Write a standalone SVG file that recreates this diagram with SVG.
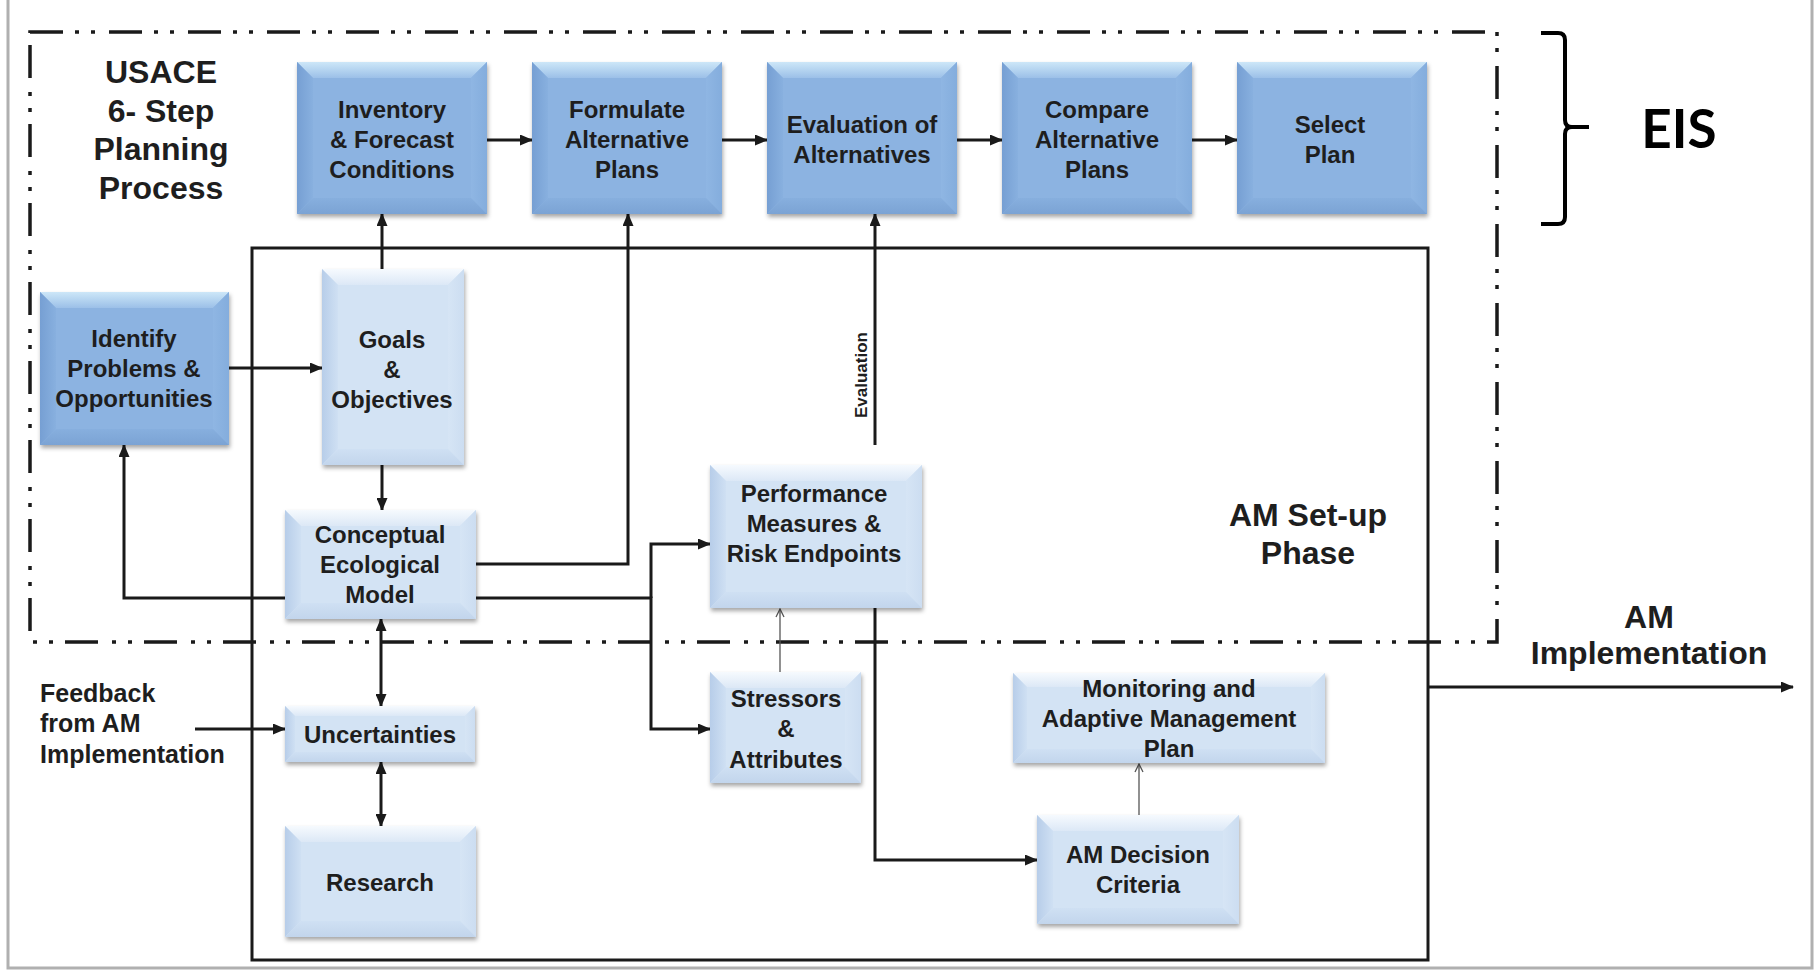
<svg xmlns="http://www.w3.org/2000/svg" width="1818" height="971" viewBox="0 0 1818 971">
<style>
.bx{font-family:"Liberation Sans",Arial,sans-serif;font-weight:bold;font-size:24px;fill:#1e1e1e;text-anchor:middle}
.big{font-family:"Liberation Sans",Arial,sans-serif;font-weight:bold;font-size:32px;fill:#1e1e1e;text-anchor:middle}
.fb{font-family:"Liberation Sans",Arial,sans-serif;font-weight:bold;font-size:25px;fill:#1e1e1e}
.ev{font-family:"Liberation Sans",Arial,sans-serif;font-weight:bold;font-size:17px;fill:#1e1e1e;text-anchor:middle}
.eis{font-family:Lato,"Liberation Sans",sans-serif;font-weight:bold;font-size:53px;fill:#000;text-anchor:middle}
.dk .c{fill:#8CB3E1;filter:url(#sh)}
.dk .t{fill:url(#gdt)}
.dk .l{fill:url(#gdl)}
.dk .r{fill:url(#gdr)}
.dk .b{fill:url(#gdb)}
.lt .c{fill:#D3E3F4;filter:url(#sh)}
.lt .t{fill:url(#glt)}
.lt .l{fill:url(#gll)}
.lt .r{fill:url(#glr)}
.lt .b{fill:url(#glb)}
.k{fill:none;stroke:#1a1a1a;stroke-width:3}
.ka{marker-end:url(#ah)}
.kd{marker-start:url(#ah2);marker-end:url(#ah2)}
.thin{fill:none;stroke:#555;stroke-width:1.3;marker-end:url(#ta)}
.frame{fill:none;stroke:#b0b0b0;stroke-width:3}
.dd{fill:none;stroke:#1a1a1a;stroke-width:3.5;stroke-dasharray:33 12 4 12 4 14}
</style>
<defs>
<linearGradient id="gdt" x1="0" y1="0" x2="0" y2="1"><stop offset="0" stop-color="#CDE7F8"/><stop offset="1" stop-color="#9CC0E8"/></linearGradient>
<linearGradient id="gdl" x1="0" y1="0" x2="1" y2="0"><stop offset="0" stop-color="#769FD3"/><stop offset="1" stop-color="#88B0DF"/></linearGradient>
<linearGradient id="gdr" x1="0" y1="0" x2="1" y2="0"><stop offset="0" stop-color="#8FB6E3"/><stop offset="1" stop-color="#84ADDD"/></linearGradient>
<linearGradient id="gdb" x1="0" y1="0" x2="0" y2="1"><stop offset="0" stop-color="#87AFDE"/><stop offset="1" stop-color="#7BA3D4"/></linearGradient>
<linearGradient id="glt" x1="0" y1="0" x2="0" y2="1"><stop offset="0" stop-color="#F6FAFE"/><stop offset="1" stop-color="#DCE8F6"/></linearGradient>
<linearGradient id="gll" x1="0" y1="0" x2="1" y2="0"><stop offset="0" stop-color="#B7CDE9"/><stop offset="1" stop-color="#CFE0F3"/></linearGradient>
<linearGradient id="glr" x1="0" y1="0" x2="1" y2="0"><stop offset="0" stop-color="#D6E5F5"/><stop offset="1" stop-color="#CCDDF1"/></linearGradient>
<linearGradient id="glb" x1="0" y1="0" x2="0" y2="1"><stop offset="0" stop-color="#CFE0F3"/><stop offset="1" stop-color="#C2D5EC"/></linearGradient>
<filter id="sh" x="-10%" y="-10%" width="130%" height="140%"><feDropShadow dx="1" dy="3" stdDeviation="2" flood-color="#000" flood-opacity="0.35"/></filter>
<marker id="ah" markerUnits="userSpaceOnUse" markerWidth="13" markerHeight="11" refX="12" refY="5.5" orient="auto"><path d="M0,0 L13,5.5 L0,11 Z" fill="#1a1a1a"/></marker>
<marker id="ah2" markerUnits="userSpaceOnUse" markerWidth="13" markerHeight="11" refX="12" refY="5.5" orient="auto-start-reverse"><path d="M0,0 L13,5.5 L0,11 Z" fill="#1a1a1a"/></marker>
<marker id="ta" markerUnits="userSpaceOnUse" markerWidth="10" markerHeight="10" refX="9" refY="5" orient="auto"><path d="M1,1 L9,5 L1,9" fill="none" stroke="#555" stroke-width="1.3"/></marker>
</defs>
<rect width="1818" height="971" fill="#fff"/>
<path class="frame" d="M8,0 V968 H1812 V0"/>

<g id="regions">
<rect class="dd" x="30" y="32" width="1467" height="610"/>
<rect fill="none" stroke="#1a1a1a" stroke-width="3" x="252" y="248" width="1176" height="712"/>
<path d="M1541,33 H1558 Q1565,33 1565,40 V120 Q1565,127 1572,127 H1589 M1589,127 H1572 Q1565,127 1565,134 V217 Q1565,224 1558,224 H1541" fill="none" stroke="#000" stroke-width="4"/>
</g>

<g id="labels">
<text class="big" x="161" y="83">USACE</text>
<text class="big" x="161" y="122">6- Step</text>
<text class="big" x="161" y="160">Planning</text>
<text class="big" x="161" y="199">Process</text>
<text class="eis" x="1679" y="148">EIS</text>
<text class="big" x="1308" y="526">AM Set-up</text>
<text class="big" x="1308" y="564">Phase</text>
<text class="big" x="1649" y="628">AM</text>
<text class="big" x="1649" y="664">Implementation</text>
<text class="fb" x="40" y="702">Feedback</text>
<text class="fb" x="40" y="732">from AM</text>
<text class="fb" x="40" y="763">Implementation</text>
<text class="ev" transform="translate(867,375) rotate(-90)">Evaluation</text>
</g>

<g id="connectors">
<path class="k ka" d="M487,140 H532"/>
<path class="k ka" d="M722,140 H767"/>
<path class="k ka" d="M957,140 H1002"/>
<path class="k ka" d="M1192,140 H1237"/>
<path class="k ka" d="M229,368 H322"/>
<path class="k ka" d="M382,269 V214"/>
<path class="k ka" d="M382,465 V510"/>
<path class="k ka" d="M285,598 H124 V445"/>
<path class="k ka" d="M476,564 H628 V214"/>
<path class="k ka" d="M651,598 V544 H710"/>
<path class="k ka" d="M476,598 H651 V729 H710"/>
<path class="k ka" d="M875,445 V214"/>
<path class="k ka" d="M875,608 V860 H1037"/>
<path class="thin" d="M780,672 V609"/>
<path class="thin" d="M1139,815 V764"/>
<path class="k kd" d="M381,619 V706"/>
<path class="k kd" d="M381,762 V826"/>
<path class="k ka" d="M195,729 H285"/>
<path class="k ka" d="M1428,687 H1793"/>
</g>

<g id="n-inventory" class="dk">
<rect class="c" x="297" y="62" width="190" height="152"/>
<polygon class="t" points="297,62 487,62 471,78 313,78"/>
<polygon class="l" points="297,62 313,78 313,198 297,214"/>
<polygon class="r" points="487,62 487,214 471,198 471,78"/>
<polygon class="b" points="297,214 313,198 471,198 487,214"/>
<text class="bx" x="392" y="118">Inventory</text>
<text class="bx" x="392" y="148">&amp; Forecast</text>
<text class="bx" x="392" y="178">Conditions</text>
</g>

<g id="n-formulate" class="dk">
<rect class="c" x="532" y="62" width="190" height="152"/>
<polygon class="t" points="532,62 722,62 706,78 548,78"/>
<polygon class="l" points="532,62 548,78 548,198 532,214"/>
<polygon class="r" points="722,62 722,214 706,198 706,78"/>
<polygon class="b" points="532,214 548,198 706,198 722,214"/>
<text class="bx" x="627" y="118">Formulate</text>
<text class="bx" x="627" y="148">Alternative</text>
<text class="bx" x="627" y="178">Plans</text>
</g>

<g id="n-evaluation" class="dk">
<rect class="c" x="767" y="62" width="190" height="152"/>
<polygon class="t" points="767,62 957,62 941,78 783,78"/>
<polygon class="l" points="767,62 783,78 783,198 767,214"/>
<polygon class="r" points="957,62 957,214 941,198 941,78"/>
<polygon class="b" points="767,214 783,198 941,198 957,214"/>
<text class="bx" x="862" y="133">Evaluation of</text>
<text class="bx" x="862" y="163">Alternatives</text>
</g>

<g id="n-compare" class="dk">
<rect class="c" x="1002" y="62" width="190" height="152"/>
<polygon class="t" points="1002,62 1192,62 1176,78 1018,78"/>
<polygon class="l" points="1002,62 1018,78 1018,198 1002,214"/>
<polygon class="r" points="1192,62 1192,214 1176,198 1176,78"/>
<polygon class="b" points="1002,214 1018,198 1176,198 1192,214"/>
<text class="bx" x="1097" y="118">Compare</text>
<text class="bx" x="1097" y="148">Alternative</text>
<text class="bx" x="1097" y="178">Plans</text>
</g>

<g id="n-select" class="dk">
<rect class="c" x="1237" y="62" width="190" height="152"/>
<polygon class="t" points="1237,62 1427,62 1411,78 1253,78"/>
<polygon class="l" points="1237,62 1253,78 1253,198 1237,214"/>
<polygon class="r" points="1427,62 1427,214 1411,198 1411,78"/>
<polygon class="b" points="1237,214 1253,198 1411,198 1427,214"/>
<text class="bx" x="1330" y="133">Select</text>
<text class="bx" x="1330" y="163">Plan</text>
</g>

<g id="n-identify" class="dk">
<rect class="c" x="40" y="292" width="189" height="153"/>
<polygon class="t" points="40,292 229,292 213,308 56,308"/>
<polygon class="l" points="40,292 56,308 56,429 40,445"/>
<polygon class="r" points="229,292 229,445 213,429 213,308"/>
<polygon class="b" points="40,445 56,429 213,429 229,445"/>
<text class="bx" x="134" y="347">Identify</text>
<text class="bx" x="134" y="377">Problems &amp;</text>
<text class="bx" x="134" y="407">Opportunities</text>
</g>

<g id="n-goals" class="lt">
<rect class="c" x="322" y="269" width="142" height="196"/>
<polygon class="t" points="322,269 464,269 448,285 338,285"/>
<polygon class="l" points="322,269 338,285 338,449 322,465"/>
<polygon class="r" points="464,269 464,465 448,449 448,285"/>
<polygon class="b" points="322,465 338,449 448,449 464,465"/>
<text class="bx" x="392" y="348">Goals</text>
<text class="bx" x="392" y="378">&amp;</text>
<text class="bx" x="392" y="408">Objectives</text>
</g>

<g id="n-conceptual" class="lt">
<rect class="c" x="285" y="510" width="191" height="109"/>
<polygon class="t" points="285,510 476,510 460,526 301,526"/>
<polygon class="l" points="285,510 301,526 301,603 285,619"/>
<polygon class="r" points="476,510 476,619 460,603 460,526"/>
<polygon class="b" points="285,619 301,603 460,603 476,619"/>
<text class="bx" x="380" y="543">Conceptual</text>
<text class="bx" x="380" y="573">Ecological</text>
<text class="bx" x="380" y="603">Model</text>
</g>

<g id="n-uncertainties" class="lt">
<rect class="c" x="285" y="706" width="190" height="56"/>
<polygon class="t" points="285,706 475,706 465,716 295,716"/>
<polygon class="l" points="285,706 295,716 295,752 285,762"/>
<polygon class="r" points="475,706 475,762 465,752 465,716"/>
<polygon class="b" points="285,762 295,752 465,752 475,762"/>
<text class="bx" x="380" y="743">Uncertainties</text>
</g>

<g id="n-research" class="lt">
<rect class="c" x="285" y="826" width="191" height="111"/>
<polygon class="t" points="285,826 476,826 460,842 301,842"/>
<polygon class="l" points="285,826 301,842 301,921 285,937"/>
<polygon class="r" points="476,826 476,937 460,921 460,842"/>
<polygon class="b" points="285,937 301,921 460,921 476,937"/>
<text class="bx" x="380" y="891">Research</text>
</g>

<g id="n-performance" class="lt">
<rect class="c" x="710" y="465" width="212" height="143"/>
<polygon class="t" points="710,465 922,465 906,481 726,481"/>
<polygon class="l" points="710,465 726,481 726,592 710,608"/>
<polygon class="r" points="922,465 922,608 906,592 906,481"/>
<polygon class="b" points="710,608 726,592 906,592 922,608"/>
<text class="bx" x="814" y="502">Performance</text>
<text class="bx" x="814" y="532">Measures &amp;</text>
<text class="bx" x="814" y="562">Risk Endpoints</text>
</g>

<g id="n-stressors" class="lt">
<rect class="c" x="710" y="672" width="151" height="111"/>
<polygon class="t" points="710,672 861,672 845,688 726,688"/>
<polygon class="l" points="710,672 726,688 726,767 710,783"/>
<polygon class="r" points="861,672 861,783 845,767 845,688"/>
<polygon class="b" points="710,783 726,767 845,767 861,783"/>
<text class="bx" x="786" y="707">Stressors</text>
<text class="bx" x="786" y="737">&amp;</text>
<text class="bx" x="786" y="768">Attributes</text>
</g>

<g id="n-monitoring" class="lt">
<rect class="c" x="1013" y="673" width="312" height="90"/>
<polygon class="t" points="1013,673 1325,673 1311,687 1027,687"/>
<polygon class="l" points="1013,673 1027,687 1027,749 1013,763"/>
<polygon class="r" points="1325,673 1325,763 1311,749 1311,687"/>
<polygon class="b" points="1013,763 1027,749 1311,749 1325,763"/>
<text class="bx" x="1169" y="697">Monitoring and</text>
<text class="bx" x="1169" y="727">Adaptive Management</text>
<text class="bx" x="1169" y="757">Plan</text>
</g>

<g id="n-decision" class="lt">
<rect class="c" x="1037" y="815" width="202" height="109"/>
<polygon class="t" points="1037,815 1239,815 1223,831 1053,831"/>
<polygon class="l" points="1037,815 1053,831 1053,908 1037,924"/>
<polygon class="r" points="1239,815 1239,924 1223,908 1223,831"/>
<polygon class="b" points="1037,924 1053,908 1223,908 1239,924"/>
<text class="bx" x="1138" y="863">AM Decision</text>
<text class="bx" x="1138" y="893">Criteria</text>
</g>
</svg>
